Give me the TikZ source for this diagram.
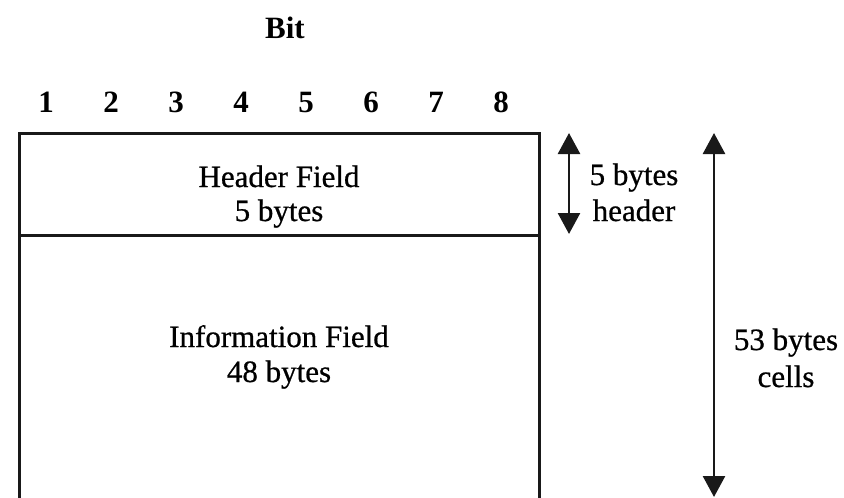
\documentclass[tikz,border=0pt]{standalone}
\usepackage{fontspec}
\setmainfont{Liberation Serif}
\newfontfamily\scanfont[FakeBold=0.7]{Liberation Serif}
\usetikzlibrary{arrows.meta}
\tikzset{
  txt/.style={anchor=base, inner sep=0pt, font=\scanfont\fontsize{31}{35}\selectfont},
  btxt/.style={anchor=base, inner sep=0pt, font=\fontsize{31}{35}\selectfont\bfseries},
  field/.style={draw=black!90, line width=2.6pt, minimum width=520pt, inner sep=0pt, anchor=north west},
  dim/.style={line width=2.6pt, draw=black!90, {Triangle[width=22pt,length=21pt]}-{Triangle[width=22pt,length=21pt]}}
}
\begin{document}
\begin{tikzpicture}[x=1pt,y=-1pt]
\useasboundingbox (0,0) rectangle (844,498);
\clip (0,0) rectangle (844,498);
% title and bit numbers
\node[btxt] (bit) at (285,38) {Bit};
\foreach \i in {1,...,8}{
  \node[btxt] (b\i) at ({46+65*(\i-1)},112) {\i};
}
% fields
\node[field, minimum height=102pt] (hdr) at (18,132) {};
\node[field, minimum height=300pt] (info) at (18,234) {};
\node[txt] (hdr1) at (279,187) {Header Field};
\node[txt] (hdr2) at (279,221) {5 bytes};
\node[txt] (inf1) at (279,347) {Information Field};
\node[txt] (inf2) at (279,382) {48 bytes};
% dimension arrows
\coordinate (ht) at (569,133);
\coordinate (hb) at (569,234);
\draw[dim] (ht) -- (hb);
\node[txt] (hl1) at (634,185) {5 bytes};
\node[txt] (hl2) at (634,221) {header};
\coordinate (ct) at (714,133);
\coordinate (cb) at (714,497);
\draw[dim] (ct) -- (cb);
\node[txt] (cl1) at (786,350) {53 bytes};
\node[txt] (cl2) at (786,387) {cells};
\end{tikzpicture}
\end{document}
